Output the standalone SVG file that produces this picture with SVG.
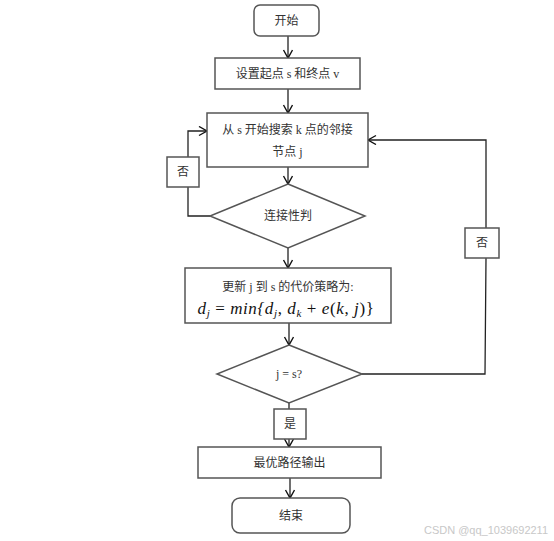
<svg xmlns="http://www.w3.org/2000/svg" width="554" height="541" viewBox="0 0 554 541">
<style>
.box{fill:#fff;stroke:#555;stroke-width:1.5}
.ln{fill:none;stroke:#222;stroke-width:1.3}
.t{font-family:"Liberation Serif","Noto Sans CJK SC",serif;font-size:12px;fill:#333;text-anchor:middle}
.m{font-family:"Liberation Serif",serif;font-style:italic;font-size:17px;fill:#111;text-anchor:middle;letter-spacing:0.6px}
</style>
<defs>
<marker id="a" markerUnits="userSpaceOnUse" markerWidth="12" markerHeight="12" refX="9" refY="5" orient="auto">
<path d="M1,0.5 L9,5 L1,9.5" fill="none" stroke="#111" stroke-width="1.4"/>
</marker>
</defs>
<rect width="554" height="541" fill="#fff"/>
<g id="connectors">
<line class="ln" x1="288" y1="36" x2="288" y2="58" marker-end="url(#a)"/>
<line class="ln" x1="288" y1="89" x2="288" y2="113" marker-end="url(#a)"/>
<line class="ln" x1="288" y1="167" x2="288" y2="184" marker-end="url(#a)"/>
<line class="ln" x1="288" y1="248" x2="288" y2="268" marker-end="url(#a)"/>
<line class="ln" x1="289" y1="323" x2="289" y2="345" marker-end="url(#a)"/>
<line class="ln" x1="289" y1="403" x2="289" y2="409"/>
<line class="ln" x1="289" y1="439" x2="289" y2="447" marker-end="url(#a)"/>
<line class="ln" x1="290" y1="478" x2="290" y2="498" marker-end="url(#a)"/>
<polyline class="ln" points="210,216 188,216 188,187"/>
<polyline class="ln" points="188,157 188,131 207,131" marker-end="url(#a)"/>
<polyline class="ln" points="362,374 485,374 486,258"/>
<polyline class="ln" points="486,228 486,140 368,140" marker-end="url(#a)"/>
</g>
<g id="start"><rect class="box" x="254" y="5" width="65" height="31" rx="6"/><text class="t" x="286.5" y="25">开始</text></g>
<g id="set"><rect class="box" x="215" y="58" width="145" height="31"/><text class="t" x="287.5" y="78">设置起点 s 和终点 v</text></g>
<g id="search"><rect class="box" x="207" y="113" width="161" height="54"/><text class="t" x="287.5" y="134">从 s 开始搜索 k 点的邻接</text><text class="t" x="287.5" y="156">节点 j</text></g>
<g id="conn"><polygon class="box" points="288,184 365,216 288,248 210,216"/><text class="t" x="288" y="220">连接性判</text></g>
<g id="update"><rect class="box" x="185" y="268" width="206" height="55"/><text class="t" x="288" y="291">更新 j 到 s 的代价策略为:</text><text class="m" x="286" y="314">d<tspan font-size="11" dy="3">j</tspan><tspan dy="-3" font-style="normal"> = </tspan>min{d<tspan font-size="11" dy="3">j</tspan><tspan dy="-3" font-style="normal">, </tspan>d<tspan font-size="11" dy="3">k</tspan><tspan dy="-3" font-style="normal"> + </tspan>e<tspan font-style="normal">(</tspan>k<tspan font-style="normal">, </tspan>j<tspan font-style="normal">)}</tspan></text></g>
<g id="check"><polygon class="box" points="289,345 362,374 289,403 217,374"/><text class="t" x="289" y="378" font-size="13">j = s?</text></g>
<g id="no1"><rect class="box" x="167" y="157" width="32" height="30"/><text class="t" x="183" y="176">否</text></g>
<g id="no2"><rect class="box" x="465" y="228" width="34" height="30"/><text class="t" x="482" y="247">否</text></g>
<g id="yes"><rect class="box" x="274" y="409" width="32" height="30"/><text class="t" x="290" y="428">是</text></g>
<g id="output"><rect class="box" x="198" y="447" width="183" height="31"/><text class="t" x="289.5" y="467">最优路径输出</text></g>
<g id="end"><rect class="box" x="232" y="498" width="118" height="35" rx="8"/><text class="t" x="291" y="520">结束</text></g>
<text x="486" y="534" style="font-family:'Liberation Sans',sans-serif;font-size:11px;fill:#c8c8c8;text-anchor:middle">CSDN @qq_1039692211</text>
</svg>
